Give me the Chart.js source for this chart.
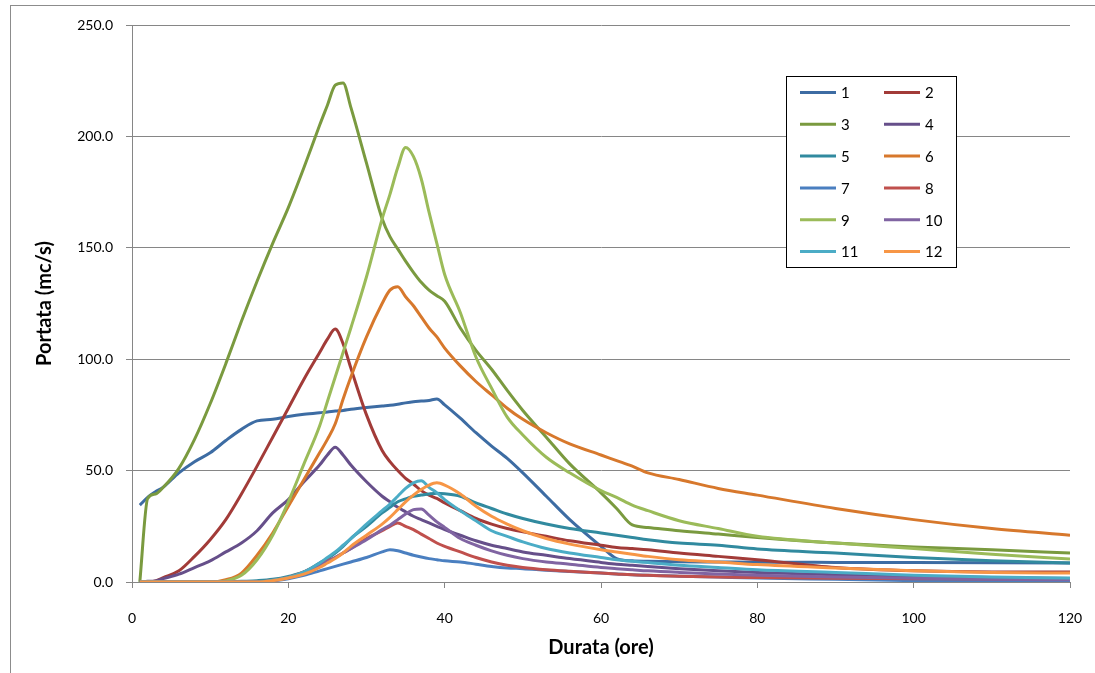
<!DOCTYPE html>
<html>
<head>
<meta charset="utf-8">
<script src="https://cdn.jsdelivr.net/npm/chart.js@4"></script>
<style>
    body { margin: 0; background: #fff; }
    #wrap { position: relative; width: 1095px; height: 673px; }
</style>
</head>
<body>
<div id="wrap"><canvas id="lineChart" width="1095" height="673"></canvas></div>
<script>
// hours shared by all the series
const hours = [1, 2, 3, 4, 6, 8, 10, 12, 14, 16, 18, 20, 22, 24, 25, 26, 27, 28,
               30, 32, 33, 34, 35, 36, 37, 38, 39, 40, 42, 44, 46, 48, 50,
               53, 56, 60, 62, 64, 66, 70, 75, 80, 90, 100, 110, 120];

const seriesNames = ['1', '2', '3', '4', '5', '6', '7', '8', '9', '10', '11', '12'];
const seriesColors = ['#3D6CA3', '#A23B38', '#7A9A3F', '#664F8A', '#318A9F', '#D7782C',
                      '#4A7FC0', '#C0504D', '#9BBB59', '#8064A2', '#4BACC6', '#F79646'];

const q1  = [34.5, 38, 40.5, 42.6, 49, 54, 58, 63.5, 68.5, 72.3, 73, 74.3, 75.3, 76, 76.3, 76.7, 77, 77.5,
             78.3, 79, 79.3, 79.8, 80.4, 80.9, 81.2, 81.5, 82.1, 79.5, 73.5, 67, 61, 55.5, 49,
             38.5, 28, 16, 10.5, 9.5, 9.3, 9.1, 9, 8.9, 8.8, 8.7, 8.6, 8.5];
const q2  = [0, 0, 0.5, 2, 5, 11.5, 19, 28, 39.5, 52, 65, 78, 91, 103, 109, 113.5, 107, 96,
             75, 59, 54, 50, 46.5, 44, 41, 39, 37.5, 35.5, 32, 28.5, 26, 24, 22.5,
             20.5, 18.5, 16.5, 15.5, 15, 14.5, 13, 11.5, 10, 6.5, 5, 4.5, 4.5];
const q3  = [0, 37.5, 39.5, 42.5, 51, 64, 80, 98, 117, 135, 152, 168, 186, 205, 214, 223, 224, 213,
             188, 163, 155, 149.5, 144, 139, 134.5, 131, 128.5, 126, 114, 104, 95.5, 86, 77,
             65, 53, 40, 33, 25.6, 24.5, 23, 21.5, 20, 17.5, 15.7, 14.5, 13];
const q4  = [0, 0.3, 0.5, 1.5, 3.5, 6.5, 9.5, 13.5, 17.5, 23, 31, 37, 45, 52.5, 57, 60.5, 57, 52.5,
             45, 38.5, 36, 33.5, 31.5, 29.5, 28, 26.5, 25, 23.5, 21, 18.5, 16.5, 15, 13.5,
             12, 10.5, 8.8, 8, 7.5, 7, 6, 5, 4.3, 3.3, 2.6, 2, 1.6];
const q5  = [0, 0, 0, 0, 0, 0, 0, 0, 0.3, 0.6, 1.2, 2.5, 4.5, 8.5, 10.5, 13, 16, 19.5,
             25, 31, 33.5, 36, 37.3, 38.5, 39, 39.5, 39.8, 39.6, 38.5, 35.5, 33, 30.5, 28.5,
             26, 24, 22, 21, 20, 19, 17.5, 16.5, 14.8, 13, 11, 9.5, 8.5];
const q6  = [0, 0, 0, 0, 0, 0, 0, 1, 4, 12, 22, 34, 46, 58, 64, 71, 82, 92,
             110, 125, 131, 132.5, 128, 124, 119, 114, 110, 105, 97, 90, 84, 78, 73,
             67, 62, 57, 54.5, 52, 49, 46, 42, 39, 33, 28, 24, 21];
const q7  = [0, 0, 0, 0, 0, 0, 0, 0, 0, 0, 0.5, 1.5, 3, 5, 6, 7, 8, 9,
             11, 13.5, 14.5, 14, 13, 12, 11.2, 10.5, 10, 9.5, 9, 8, 7, 6.3, 6,
             5.3, 4.7, 4, 3.6, 3.3, 3, 2.6, 2.2, 1.8, 1.2, 0.6, 0.4, 0.3];
const q8  = [0, 0, 0, 0, 0, 0, 0, 0, 0, 0, 0.8, 2, 4.5, 8, 9.5, 11, 13, 15,
             19.5, 23, 25, 26.5, 25, 23.5, 21.5, 19.5, 17.5, 16, 13.5, 11, 9, 7.5, 6.5,
             5.5, 4.8, 4, 3.6, 3.2, 3, 2.6, 2.2, 2, 1.7, 1.5, 1.3, 1.2];
const q9  = [0, 0, 0, 0, 0, 0, 0, 0.5, 3, 10, 21, 36, 53, 70, 81, 92, 103, 114,
             137, 163, 174, 186, 195, 191, 181, 166, 152, 138, 121, 101, 87, 74, 66,
             56, 49, 41, 38, 34.5, 32, 27.5, 24, 20.5, 17.5, 15, 12.5, 10.3];
const q10 = [0, 0, 0, 0, 0, 0, 0, 0, 0, 0, 0.6, 1.8, 4, 7.5, 9, 11, 13, 15,
             19, 23.5, 25.5, 28, 30.5, 32.5, 32.8, 30, 27, 24.5, 19.5, 16.5, 14, 12, 10.5,
             9, 8, 6.5, 6, 5.5, 5, 4.3, 3.6, 3, 2.2, 1.7, 1.2, 1];
const q11 = [0, 0, 0, 0, 0, 0, 0, 0, 0, 0, 0.8, 2, 4.5, 8.5, 11, 13.5, 16.5, 19.5,
             26, 32, 35, 38.5, 42, 44.5, 45.5, 42.5, 40, 37, 32, 27.5, 23, 20.5, 18,
             15, 13, 11, 10, 9.3, 8.7, 7.5, 6.5, 5.5, 4.3, 3, 2.2, 1.8];
const q12 = [0, 0, 0, 0, 0, 0, 0, 0, 0, 0, 0.6, 1.8, 3.5, 6.5, 8.5, 10.5, 13, 16,
             21, 26, 29, 32.5, 36, 39, 41.5, 43.5, 44.5, 43.5, 39.5, 34, 29.5, 26, 23,
             19.5, 17, 14.5, 13.5, 12.5, 11.5, 10, 9, 7.8, 6.3, 5, 4.3, 4];

const allSeries = [q1, q2, q3, q4, q5, q6, q7, q8, q9, q10, q11, q12];

const FONT = 'Lato, "Open Sans", sans-serif';

// frame round the whole chart
const framePlugin = {
    id: 'frame',
    beforeDraw(chart) {
        const ctx = chart.ctx;
        ctx.save();
        ctx.fillStyle = '#fff';
        ctx.fillRect(0, 0, chart.width, chart.height);
        ctx.strokeStyle = '#8c8c8c';
        ctx.lineWidth = 1;
        ctx.strokeRect(10.5, 5.5, 1200, 800);
        ctx.restore();
    }
};

// boxed two-column legend inside the plot
const boxLegend = {
    id: 'boxLegend',
    afterDraw(chart) {
        const ctx = chart.ctx;
        ctx.save();
        ctx.fillStyle = '#fff';
        ctx.fillRect(786.5, 76.5, 170, 191);
        ctx.strokeStyle = '#000';
        ctx.lineWidth = 1;
        ctx.strokeRect(786.5, 76.5, 170, 191);
        ctx.font = '15px ' + FONT;
        ctx.textBaseline = 'middle';
        chart.data.datasets.forEach((ds, i) => {
            const col = i % 2;
            const row = Math.floor(i / 2);
            const x = 800 + col * 84;
            const y = 92.5 + row * 31.8;
            ctx.strokeStyle = ds.borderColor;
            ctx.lineWidth = 3;
            ctx.beginPath();
            ctx.moveTo(x, y);
            ctx.lineTo(x + 36, y);
            ctx.stroke();
            ctx.fillStyle = '#000';
            ctx.fillText(ds.label, x + 41, y + 1);
        });
        ctx.restore();
    }
};

const datasets = allSeries.map((vals, i) => ({
    label: seriesNames[i],
    data: vals.map((v, k) => ({ x: hours[k], y: v })),
    borderColor: seriesColors[i],
    backgroundColor: seriesColors[i],
    borderWidth: 3,
    pointRadius: 0,
    fill: false,
    cubicInterpolationMode: 'monotone',
    order: allSeries.length - i   // later series on top
}));

new Chart(document.getElementById('lineChart'), {
    type: 'line',
    data: { datasets: datasets },
    options: {
        responsive: false,
        animation: false,
        layout: { padding: { left: 33, right: 25, top: 25, bottom: 0 } },
        plugins: {
            legend: { display: false },
            tooltip: { enabled: false }
        },
        scales: {
            x: {
                type: 'linear',
                min: 0,
                max: 120,
                ticks: {
                    stepSize: 20,
                    color: '#000',
                    padding: 22,
                    font: { family: FONT, size: 14 }
                },
                grid: {
                    drawOnChartArea: false,
                    drawTicks: true,
                    tickLength: 6,
                    color: '#868686'
                },
                border: { color: '#868686' },
                title: {
                    display: true,
                    text: 'Durata (ore)',
                    color: '#000',
                    font: { family: FONT, size: 20, weight: 'bold' },
                    padding: { top: 0, bottom: 13 }
                },
                afterFit: s => {
                    s.height = 673 - 582;
                    s.paddingLeft = 0;
                    s.paddingRight = 0;
                }
            },
            y: {
                min: 0,
                max: 250,
                ticks: {
                    stepSize: 50,
                    color: '#000',
                    padding: 13,
                    font: { family: FONT, size: 14 },
                    callback: v => v.toFixed(1)
                },
                grid: {
                    color: '#868686',
                    tickLength: 6
                },
                border: { color: '#868686' },
                title: {
                    display: true,
                    text: 'Portata (mc/s)',
                    color: '#000',
                    font: { family: FONT, size: 20, weight: 'bold' },
                    padding: { top: 0, bottom: 0 }
                },
                afterFit: s => { s.width = 132 - 33; }
            }
        }
    },
    plugins: [framePlugin, boxLegend]
});
</script>
</body>
</html>
